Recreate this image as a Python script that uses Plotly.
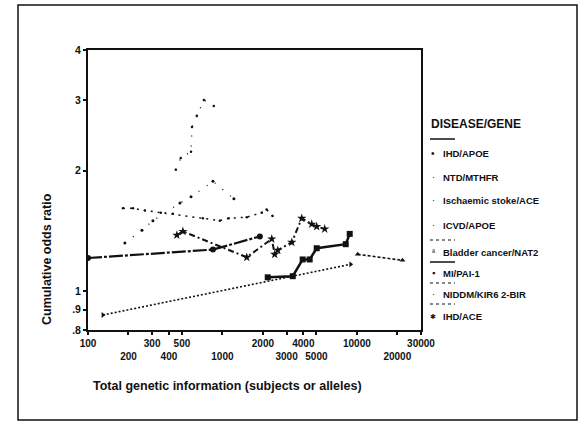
import plotly.graph_objects as go

# Cumulative odds ratio against total genetic information, per disease/gene pair
ihd_apoe_n = [100, 850, 1900]
ihd_apoe_or = [1.21, 1.27, 1.37]

ntd_mthfr_n = [450, 490, 584, 594, 645, 728, 863]
ntd_mthfr_or = [2.01, 2.15, 2.23, 2.57, 2.74, 3.0, 2.9]

stroke_ace_n = [182, 216, 265, 348, 428, 715, 956, 1112, 1517, 1958, 2130, 2360]
stroke_ace_or = [1.61, 1.61, 1.59, 1.57, 1.56, 1.52, 1.50, 1.52, 1.53, 1.57, 1.60, 1.54]

icvd_apoe_n = [188, 252, 304, 483, 584, 850, 1217]
icvd_apoe_or = [1.32, 1.42, 1.50, 1.66, 1.72, 1.88, 1.70]

bladder_nat2_n = [10140, 21870]
bladder_nat2_or = [1.236, 1.194]

mi_pai1_n = [2173, 3334, 3953, 4456, 5027, 8265, 8850]
mi_pai1_or = [1.083, 1.09, 1.20, 1.20, 1.28, 1.31, 1.39]

niddm_kir_n = [129, 8995]
niddm_kir_or = [0.872, 1.167]

ihd_ace_n = [458, 508, 1517, 2328, 2449, 2580, 3281, 3892, 4617, 5027, 5766]
ihd_ace_or = [1.38, 1.41, 1.215, 1.35, 1.236, 1.265, 1.324, 1.52, 1.47, 1.45, 1.43]

x_tickvals = [100, 200, 300, 400, 500, 1000, 2000, 3000, 4000, 5000, 10000, 20000, 30000]
x_row = [0, 1, 0, 1, 0, 1, 0, 1, 0, 1, 0, 1, 0]
y_tickvals = [0.8, 0.9, 1, 2, 3, 4]
y_ticktext = [".8", ".9", "1", "2", "3", "4"]

legend_labels = ["IHD/APOE", "NTD/MTHFR", "Ischaemic stoke/ACE", "ICVD/APOE",
                 "Bladder cancer/NAT2", "MI/PAI-1", "NIDDM/KIR6 2-BIR", "IHD/ACE"]

FONT = "Liberation Sans"
INK = "#111111"

# plot area in pixels (for placing decorations)
L, R, T, B = 88, 421, 50, 330
W, H = 580, 435


def px(x):
    return (x - L) / (R - L)


def py(y):
    return (B - y) / (B - T)


fig = go.Figure()

series = [
    (ihd_apoe_n, ihd_apoe_or, dict(width=2.2, dash="14px,2px,3px,2px"), dict(symbol="circle", size=6)),
    (ntd_mthfr_n, ntd_mthfr_or, dict(width=1.3, dash="1px,9px"), dict(symbol="circle", size=2.5)),
    (stroke_ace_n, stroke_ace_or, dict(width=1.5, dash="2px,5px"), dict(symbol="circle", size=2.5)),
    (icvd_apoe_n, icvd_apoe_or, dict(width=1.3, dash="1px,9px"), dict(symbol="circle", size=3)),
    (bladder_nat2_n, bladder_nat2_or, dict(width=1.6, dash="3px,2px"), dict(symbol="triangle-up", size=5)),
    (mi_pai1_n, mi_pai1_or, dict(width=2.5), dict(symbol="square", size=6)),
    (niddm_kir_n, niddm_kir_or, dict(width=1.6, dash="2px,2px"), dict(symbol="triangle-right", size=5)),
    (ihd_ace_n, ihd_ace_or, dict(width=2, dash="6px,3px,2px,3px"), dict(symbol="star", size=7)),
]

for (xs, ys, line, marker), name in zip(series, legend_labels):
    fig.add_trace(go.Scatter(
        x=xs, y=ys, mode="lines+markers", name=name, showlegend=False,
        line=dict(color=INK, **line),
        marker=dict(color=INK, line=dict(width=0), **marker),
    ))

# reference line at odds ratio 1
fig.add_shape(type="line", xref="paper", yref="y", x0=0, x1=1, y0=0, y1=0,
              line=dict(color=INK, width=2))

ticktext = [("<br>" if r else "") + str(v) for v, r in zip(x_tickvals, x_row)]

fig.update_xaxes(
    type="log", range=[2, 4.4771], tickvals=x_tickvals, ticktext=ticktext,
    showgrid=False, zeroline=False, showline=True, linecolor=INK, linewidth=2,
    mirror=True, ticks="outside", ticklen=3, tickwidth=2, tickcolor=INK,
    tickangle=0,
    tickfont=dict(family=FONT, size=10, color=INK, weight="bold"),
)
fig.update_yaxes(
    type="log", range=[-0.09691, 0.60206], tickvals=y_tickvals, ticktext=y_ticktext,
    showgrid=False, zeroline=False, showline=True, linecolor=INK, linewidth=2,
    mirror=True, ticks="outside", ticklen=3, tickwidth=2, tickcolor=INK,
    tickfont=dict(family=FONT, size=10.5, color=INK, weight="bold"),
)


def note(text, x, y, size, xanchor="left", bold=True, angle=0):
    font = dict(family=FONT, size=size, color=INK)
    if bold:
        font["weight"] = "bold"
    return dict(text=text, x=px(x), y=py(y), xref="paper", yref="paper",
                xanchor=xanchor, yanchor="middle", showarrow=False,
                textangle=angle, font=font)


ann = [
    note("Total genetic information (subjects or alleles)", 91, 386, 12.5),
    note("Cumulative odds ratio", 47, 259, 12.5, xanchor="center", angle=-90),
    note("DISEASE/GENE", 429, 124, 12),
]

# legend block
legend_y = [153, 177, 200, 225, 252, 273, 294, 316]
legend_sym = ["•", "·", "·", "·", "ª", "▪", "·", "✱"]
legend_sym_size = [10, 9, 9, 9, 8, 9, 9, 7]
for lab, yy, sym, ss in zip(legend_labels, legend_y, legend_sym, legend_sym_size):
    ann.append(note(sym, 433, yy, ss, xanchor="center", bold=False))
    ann.append(note(lab, 441, yy, 9.5))

shapes = []
for yy, dash, wd in [(139, "solid", 1.5), (240, "dot", 1), (262, "solid", 1.5),
                     (283, "dot", 1), (304, "dot", 1)]:
    shapes.append(dict(type="line", xref="paper", yref="paper", x0=px(430), x1=px(455),
                       y0=py(yy), y1=py(yy), line=dict(color=INK, width=wd, dash=dash)))

# outer frame
shapes.append(dict(type="rect", xref="paper", yref="paper", x0=px(18), x1=px(577),
                   y0=py(420), y1=py(5), line=dict(color=INK, width=1.5)))

for s in shapes:
    fig.add_shape(**s)

fig.update_layout(
    width=W, height=H, margin=dict(l=L, r=W - R, t=T, b=H - B),
    paper_bgcolor="white", plot_bgcolor="white",
    annotations=ann, showlegend=False,
)

fig.write_html("out.html")
